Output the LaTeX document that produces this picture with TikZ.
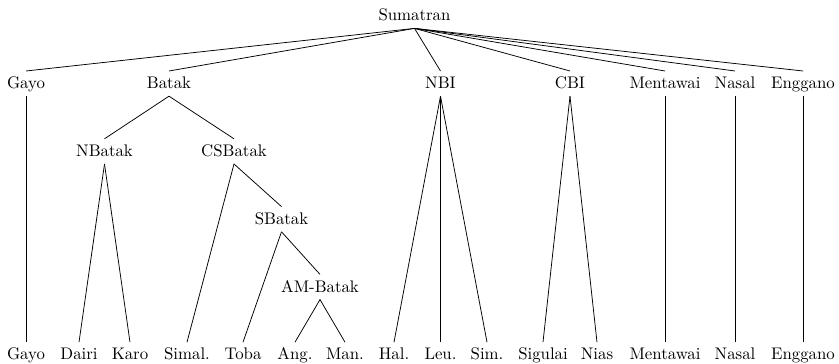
\documentclass[tikz,border=0pt]{standalone}
\begin{document}
\begin{tikzpicture}[x=0.5953pt,y=-0.5953pt,
  lab/.style={anchor=base,inner xsep=0pt,inner ysep=3.4pt,text height=7pt,text depth=0.8pt,font=\fontsize{10}{12}\selectfont},
  edge/.style={draw=black,line width=0.45pt}]
\useasboundingbox (0,0) rectangle (839,364);
% levels (baselines)
\def\la{21}\def\lb{88.8}\def\lc{156.6}\def\ld{224.4}\def\le{292.2}\def\lf{360}
% root
\node[lab] (sum) at (414.5,\la) {Sumatran};
% level 1
\node[lab] (gayo1) at (26,\lb) {Gayo};
\node[lab] (batak) at (169,\lb) {Batak};
\node[lab] (nbi) at (440.5,\lb) {NBI};
\node[lab] (cbi) at (570,\lb) {CBI};
\node[lab] (ment1) at (665,\lb) {Mentawai};
\node[lab] (nasal1) at (735,\lb) {Nasal};
\node[lab] (engg1) at (803,\lb) {Enggano};
% level 2
\node[lab] (nbatak) at (104.5,\lc) {NBatak};
\node[lab] (csbatak) at (234,\lc) {CSBatak};
% level 3
\node[lab] (sbatak) at (281.5,\ld) {SBatak};
% level 4
\node[lab] (ambatak) at (320,\le) {AM-Batak};
% leaves
\node[lab] (gayo) at (26,\lf) {Gayo};
\node[lab] (dairi) at (79,\lf) {Dairi};
\node[lab] (karo) at (130,\lf) {Karo};
\node[lab] (simal) at (187,\lf) {Simal.};
\node[lab] (toba) at (243,\lf) {Toba};
\node[lab] (ang) at (295,\lf) {Ang.};
\node[lab] (man) at (345,\lf) {Man.};
\node[lab] (hal) at (394,\lf) {Hal.};
\node[lab] (leu) at (440.5,\lf) {Leu.};
\node[lab] (sim) at (487,\lf) {Sim.};
\node[lab] (sigulai) at (543,\lf) {Sigulai};
\node[lab] (nias) at (597,\lf) {Nias};
\node[lab] (ment) at (665,\lf) {Mentawai};
\node[lab] (nasal) at (735,\lf) {Nasal};
\node[lab] (engg) at (803,\lf) {Enggano};
% edges
\foreach \c in {gayo1,batak,nbi,cbi,ment1,nasal1,engg1}
  \draw[edge] (sum.south) -- (\c.north);
\draw[edge] (gayo1.south) -- (gayo.north);
\draw[edge] (batak.south) -- (nbatak.north);
\draw[edge] (batak.south) -- (csbatak.north);
\draw[edge] (nbatak.south) -- (dairi.north);
\draw[edge] (nbatak.south) -- (karo.north);
\draw[edge] (csbatak.south) -- (simal.north);
\draw[edge] (csbatak.south) -- (sbatak.north);
\draw[edge] (sbatak.south) -- (toba.north);
\draw[edge] (sbatak.south) -- (ambatak.north);
\draw[edge] (ambatak.south) -- (ang.north);
\draw[edge] (ambatak.south) -- (man.north);
\foreach \c in {hal,leu,sim}
  \draw[edge] (nbi.south) -- (\c.north);
\draw[edge] (cbi.south) -- (sigulai.north);
\draw[edge] (cbi.south) -- (nias.north);
\draw[edge] (ment1.south) -- (ment.north);
\draw[edge] (nasal1.south) -- (nasal.north);
\draw[edge] (engg1.south) -- (engg.north);
\end{tikzpicture}
\end{document}
